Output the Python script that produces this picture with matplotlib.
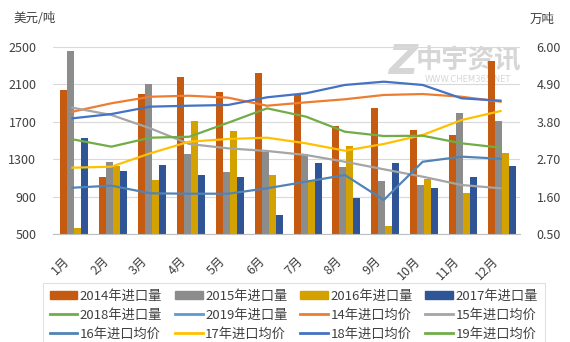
import numpy as np
import matplotlib
matplotlib.use("Agg")
import matplotlib.pyplot as plt
from matplotlib.patches import Patch
from matplotlib.lines import Line2D

plt.rcParams['font.family'] = ['Noto Sans CJK SC', 'DejaVu Sans']

# ---------------- Data ----------------
months = ["1月", "2月", "3月", "4月", "5月", "6月", "7月", "8月", "9月", "10月", "11月", "12月"]

# import volume, 万吨 (right axis)
vol_2014 = [4.74, 2.19, 4.62, 5.12, 4.68, 5.24, 4.59, 3.68, 4.21, 3.56, 3.41, 5.59]
vol_2015 = [5.88, 2.62, 4.91, 2.85, 2.32, 2.92, 2.85, 2.48, 2.06, 1.94, 4.07, 3.83]
vol_2016 = [0.67, 2.50, 2.09, 3.82, 3.53, 2.24, 2.09, 3.09, 0.74, 2.11, 1.71, 2.88]
vol_2017 = [3.31, 2.35, 2.53, 2.24, 2.19, 1.07, 2.58, 1.56, 2.58, 1.85, 2.19, 2.50]
vol_2018 = []
vol_2019 = []

# average import price, 美元/吨 (left axis)
price_14 = [1808, 1898, 1968, 1979, 1958, 1872, 1908, 1941, 1987, 1997, 1968, 1915]
price_15 = [1851, 1773, 1630, 1463, 1416, 1388, 1345, 1273, 1192, 1113, 1024, 989]
price_16 = [995, 1017, 935, 931, 931, 989, 1059, 1131, 864, 1273, 1327, 1305]
price_17 = [1209, 1220, 1363, 1487, 1516, 1530, 1470, 1391, 1463, 1559, 1719, 1815]
price_18 = [1737, 1783, 1862, 1872, 1880, 1962, 2005, 2094, 2129, 2094, 1951, 1926]
price_19 = [1513, 1434, 1530, 1540, 1690, 1844, 1755, 1594, 1548, 1551, 1470, 1423]

left_ticks = [500, 900, 1300, 1700, 2100, 2500]
right_ticks = [0.5, 1.6, 2.7, 3.8, 4.9, 6.0]

# ---------------- Styles ----------------
bar_colors = ["#C55A11", "#8C8C8C", "#D4A200", "#2F5597"]
c14, c15, c16, c17, c18, c19 = "#ED7D31", "#A5A5A5", "#5283B6", "#FFC000", "#4472C4", "#70AD47"
c_vol18, c_vol19 = "#70AD47", "#5B9BD5"

W, H = 570, 342
fig = plt.figure(figsize=(W / 100, H / 100), dpi=100)
ax = fig.add_axes([53 / W, 1 - 234 / H, (520 - 53) / W, 187 / H])
ax2 = ax.twinx()

x = np.arange(len(months))
bw = 0.18
for i, (vals, col) in enumerate(zip([vol_2014, vol_2015, vol_2016, vol_2017], bar_colors)):
    ax2.bar(x + (i - 1.5) * bw + 0.04, np.array(vals) - 0.5, bw, bottom=0.5, color=col, zorder=2)

for vals, col in [(price_14, c14), (price_15, c15), (price_16, c16),
                  (price_17, c17), (price_18, c18), (price_19, c19)]:
    ax.plot(x, vals, color=col, lw=1.6, zorder=3)

ax.set_zorder(ax2.get_zorder() + 1)
ax.patch.set_visible(False)

ax.set_xlim(-0.5, len(months) - 0.5)
ax.set_ylim(500, 2500)
ax2.set_ylim(0.5, 6.0)
ax.set_yticks(left_ticks)
ax2.set_yticks(right_ticks)
ax2.set_yticklabels([f"{v:.2f}" for v in right_ticks])
ax2.yaxis.grid(True, color="#D9D9D9", lw=0.8, zorder=0)
ax2.set_axisbelow(True)

for a in (ax, ax2):
    for s in a.spines.values():
        s.set_visible(False)
    a.tick_params(length=0, labelsize=9, colors="#404040")
ax.spines["bottom"].set_visible(True)
ax.spines["bottom"].set_color("#BFBFBF")
ax.tick_params(axis="y", pad=12)
ax2.tick_params(axis="y", pad=12)

ax.set_xticks(x)
ax.set_xticklabels(months, rotation=45, ha="right", va="top")
ax.tick_params(axis="x", pad=15)

fig.text(13 / W, 1 - 19 / H, "美元/吨", fontsize=9, color="#404040", va="center", ha="left")
fig.text(530 / W, 1 - 19 / H, "万吨", fontsize=9, color="#404040", va="center", ha="left")

# watermark
wm = "#D6D6D6"
ax2.text(403 / W, 1 - 63 / H, "Z", transform=fig.transFigure, fontsize=29, fontweight="bold",
         style="italic", color=wm, ha="center", va="center", family="DejaVu Sans", zorder=0)
ax2.text(468 / W, 1 - 61 / H, "中宇资讯", transform=fig.transFigure, fontsize=19, fontweight="bold",
         color=wm, ha="center", va="center", zorder=0)
ax2.text(468 / W, 1 - 80 / H, "WWW.CHEM365.NET", transform=fig.transFigure, fontsize=6,
         color=wm, ha="center", va="center", family="DejaVu Sans", zorder=0)

# ---------------- Legend ----------------
rows = [
    (Patch(color=bar_colors[0]), "2014年进口量"), (Patch(color=bar_colors[1]), "2015年进口量"),
    (Patch(color=bar_colors[2]), "2016年进口量"), (Patch(color=bar_colors[3]), "2017年进口量"),
    (Line2D([], [], color=c_vol18, lw=2), "2018年进口量"), (Line2D([], [], color=c_vol19, lw=2), "2019年进口量"),
    (Line2D([], [], color=c14, lw=2), "14年进口均价"), (Line2D([], [], color=c15, lw=2), "15年进口均价"),
    (Line2D([], [], color=c16, lw=2), "16年进口均价"), (Line2D([], [], color=c17, lw=2), "17年进口均价"),
    (Line2D([], [], color=c18, lw=2), "18年进口均价"), (Line2D([], [], color=c19, lw=2), "19年进口均价"),
]
order = [r * 4 + c for c in range(4) for r in range(3)]
leg = fig.legend([rows[i][0] for i in order], [rows[i][1] for i in order],
                 loc="upper left", bbox_to_anchor=(43 / W, 1 - 283 / H), ncol=4,
                 fontsize=9.5, frameon=True, fancybox=False, handlelength=2.1, handleheight=0.5,
                 handletextpad=0.2, columnspacing=0.95, labelspacing=0.45, borderpad=0.5,
                 borderaxespad=0)
leg.get_frame().set_edgecolor("#D9D9D9")
leg.get_frame().set_linewidth(0.8)
for t in leg.get_texts():
    t.set_color("#404040")

fig.savefig("out.png", dpi=100)
